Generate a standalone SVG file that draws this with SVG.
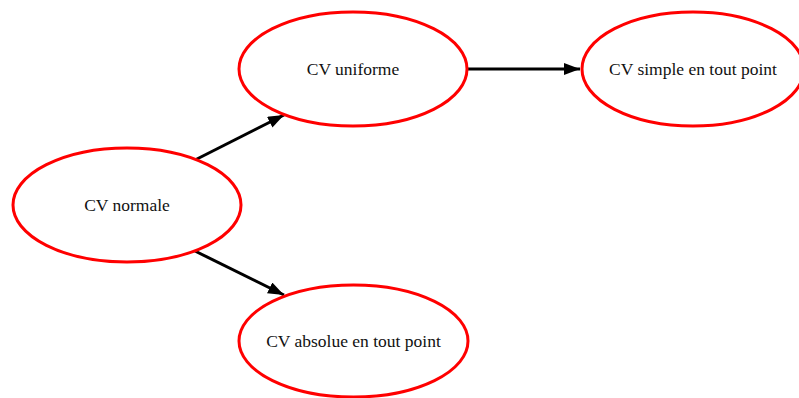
<svg xmlns="http://www.w3.org/2000/svg" width="799" height="398" viewBox="0 0 799 398">
<style>
.node ellipse{fill:#fff;stroke:#f00;stroke-width:3}
.node text{font-family:"Liberation Serif","DejaVu Serif",serif;font-size:17.5px;fill:#111;text-anchor:middle}
.edge{stroke:#000;stroke-width:3;fill:none}
</style>
<defs>
<marker id="ah" viewBox="0 0 16 12" refX="16" refY="6" markerWidth="16" markerHeight="12" markerUnits="userSpaceOnUse" orient="auto">
<path d="M0,0 L16,6 L0,12 Z" fill="#000"/>
</marker>
</defs>
<rect width="799" height="398" fill="#fff"/>
<g id="connectors">
<line class="edge" x1="195" y1="160" x2="284" y2="115" marker-end="url(#ah)"/>
<line class="edge" x1="195" y1="251" x2="284" y2="295" marker-end="url(#ah)"/>
<line class="edge" x1="467" y1="69" x2="580" y2="69" marker-end="url(#ah)"/>
</g>
<g id="normale" class="node">
<ellipse cx="127" cy="205" rx="114" ry="57"/>
<text x="127" y="211">CV normale</text>
</g>
<g id="uniforme" class="node">
<ellipse cx="353" cy="69" rx="114" ry="57"/>
<text x="353" y="75">CV uniforme</text>
</g>
<g id="simple" class="node">
<ellipse cx="693" cy="69" rx="111" ry="57"/>
<text x="693" y="75">CV simple en tout point</text>
</g>
<g id="absolue" class="node">
<ellipse cx="353.5" cy="341" rx="114.5" ry="56"/>
<text x="353.5" y="347">CV absolue en tout point</text>
</g>
</svg>
